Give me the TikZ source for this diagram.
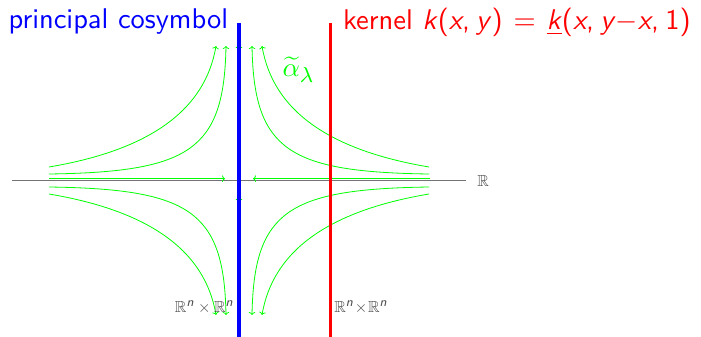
\documentclass[tikz,border=0pt]{standalone}
\usepackage{amssymb}
\usetikzlibrary{arrows.meta}
\DeclareMathAlphabet{\mathsfit}{OT1}{cmss}{m}{sl}
\DeclareMathSizes{10}{10}{8}{6}
\begin{document}
\begin{tikzpicture}[x=1pt,y=-1pt,
  flow/.style={draw=green, line width=0.8pt, -{To[length=3pt,width=6.5pt]}},
  axisline/.style={draw=black!55, line width=1.4pt},
  bigtext/.style={font=\sffamily, scale=2.85, inner sep=0pt, anchor=base west},
  rlabel/.style={text=black!70, scale=1.6, inner sep=0pt}]
\useasboundingbox (0,0) rectangle (701,337);
% axis
\coordinate (axL) at (12,180.5);
\coordinate (axR) at (466,180.5);
\draw[axisline] (axL) -- (axR);
\node[rlabel, anchor=west] (R) at (477,181) {$\mathbb{R}$};
% flow lines
\draw[flow] (49,178.7) -- (225,178.7);
\draw[flow] (430,178.7) -- (253,178.7);
\draw[flow] (239,178) -- (239,45);
\draw[flow] (239,315) -- (239,197);
\draw[flow] (49,167) .. controls (150,150) and (205,110) .. (216,46);
\draw[flow] (49,174) .. controls (190,172) and (224,150) .. (226,46);
\draw[flow] (429,167) .. controls (328,150) and (273,110) .. (262,46);
\draw[flow] (429,174) .. controls (288,172) and (254,150) .. (252,46);
\draw[flow] (49,194) .. controls (150,211) and (205,251) .. (216,315);
\draw[flow] (49,187) .. controls (190,189) and (224,211) .. (226,315);
\draw[flow] (429,194) .. controls (328,211) and (273,251) .. (262,315);
\draw[flow] (429,187) .. controls (288,189) and (254,211) .. (252,315);
% vertical lines
\coordinate (bT) at (239,22.7);
\coordinate (bB) at (239,337);
\coordinate (rT) at (330.5,22.7);
\coordinate (rB) at (330.5,337);
\draw[blue, line width=3.1pt] (bT) -- (bB);
\draw[red, line width=3.1pt] (rT) -- (rB);
% texts
\node[bigtext, text=blue] (cos) at (8,29) {principal cosymbol};
\node[bigtext, text=red] (ker) at (342.5,29.5) {kernel \textit{k}(\textit{x},\hspace{0.22em}\textit{y})\hspace{0.38em}=\hspace{0.38em}\underline{\textit{k}}(\textit{x},\hspace{0.22em}\textit{y}$-$\textit{x},\hspace{0.22em}1)};
\node[text=green, scale=2.7, inner sep=0pt, anchor=base west] (alpha) at (282,77) {$\widetilde{\alpha}_\lambda$};
\node[rlabel, anchor=base east] (RL) at (234,312.3) {$\mathbb{R}^{\mathsfit{n}}\times\mathbb{R}^{\mathsfit{n}}$};
\node[rlabel, anchor=base west] (RR) at (334,312.3) {$\mathbb{R}^{\mathsfit{n}}\!\times\!\mathbb{R}^{\mathsfit{n}}$};
\end{tikzpicture}
\end{document}
